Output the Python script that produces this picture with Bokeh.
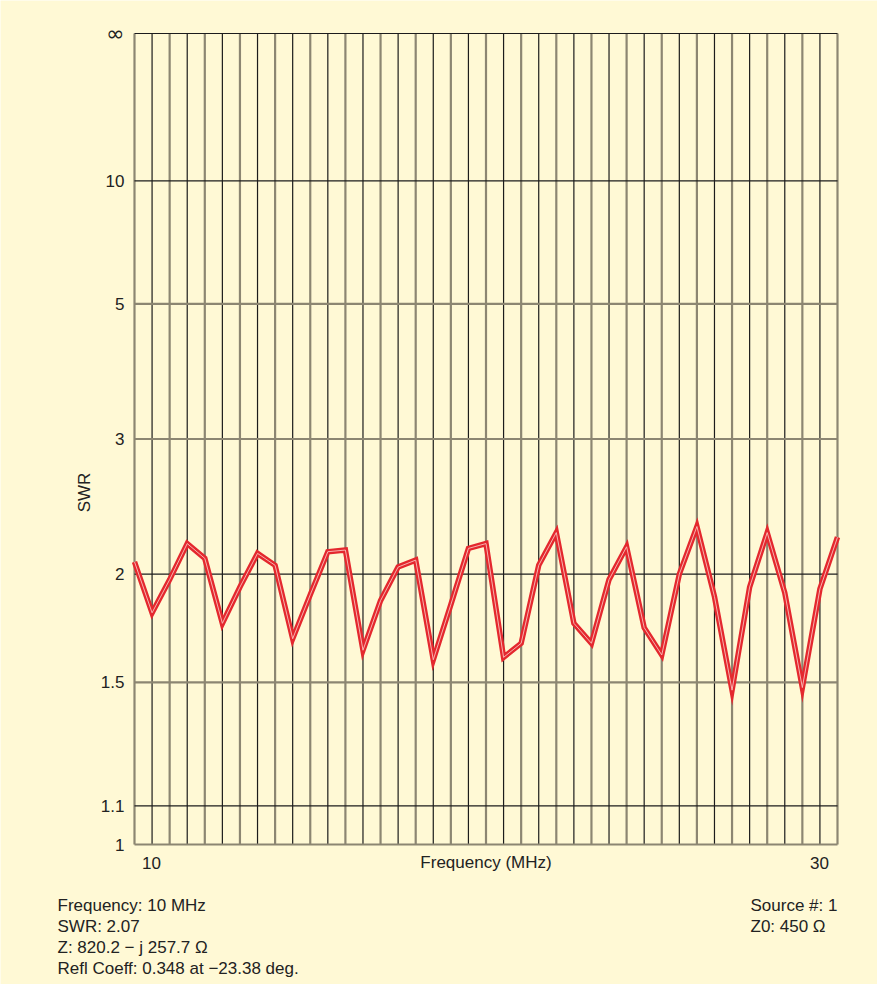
import math
from bokeh.plotting import figure
from bokeh.models import FixedTicker, Label, Range1d, LinearAxis
from bokeh.embed import file_html
from bokeh.resources import INLINE

# ---- data -------------------------------------------------------------
freq_mhz = [10.0, 10.5, 11.0, 11.5, 12.0, 12.5, 13.0, 13.5, 14.0, 14.5,
            15.0, 15.5, 16.0, 16.5, 17.0, 17.5, 18.0, 18.5, 19.0, 19.5,
            20.0, 20.5, 21.0, 21.5, 22.0, 22.5, 23.0, 23.5, 24.0, 24.5,
            25.0, 25.5, 26.0, 26.5, 27.0, 27.5, 28.0, 28.5, 29.0, 29.5,
            30.0]
swr = [2.07, 1.80, 1.97, 2.18, 2.09, 1.75, 1.93, 2.12, 2.05, 1.68,
       1.89, 2.13, 2.14, 1.63, 1.86, 2.04, 2.08, 1.59, 1.84, 2.15,
       2.18, 1.60, 1.66, 2.05, 2.25, 1.75, 1.66, 1.97, 2.16, 1.73,
       1.61, 2.00, 2.29, 1.88, 1.47, 1.93, 2.25, 1.90, 1.48, 1.92,
       2.22]

swr_ticks = [1, 1.1, 1.5, 2, 3, 5, 10]
swr_tick_labels = ["1", "1.1", "1.5", "2", "3", "5", "10"]
infinity_label = "\u221e"
swr_black_lines = [1.1, 2, 10, float("inf")]
swr_gray_lines = [1, 1.5, 3, 5]
freq_start, freq_stop = 10, 30
x_tick_values = [10, 30]
x_tick_labels = ["10", "30"]
x_axis_title = "Frequency (MHz)"

readout_left = ["Frequency: 10 MHz", "SWR: 2.07",
                "Z: 820.2 \u2212 j 257.7 \u03a9",
                "Refl Coeff: 0.348 at \u221223.38 deg."]
readout_right = ["Source #: 1", "Z0: 450 \u03a9"]


def rho(s):
    """Reflection-coefficient magnitude: the chart's vertical scale."""
    return 1.0 if math.isinf(s) else round((s - 1.0) / (s + 1.0), 9)


# ---- styles / layout ----------------------------------------------------
BG = "#FFF9D5"
TXT = "#222222"
BLACK = "#1c1c1c"
GRAY = "#8c8672"
RED = "#E4282E"
FONT = "Liberation Sans"
FS = "17px"

W, H = 877, 984
PX_PER_MHZ = 703 / 20.0
PX_PER_RHO = 811.0
LEFT_PAD, RIGHT_PAD, TOP_PAD, BOTTOM_PAD = 134, 40, 33, 140

p = figure(width=W, height=H, output_backend="svg", toolbar_location=None,
           x_axis_type=None, y_axis_type=None, min_border=0,
           x_range=Range1d(freq_start - LEFT_PAD / PX_PER_MHZ,
                           freq_stop + RIGHT_PAD / PX_PER_MHZ),
           y_range=Range1d(0 - BOTTOM_PAD / PX_PER_RHO,
                           1 + TOP_PAD / PX_PER_RHO))
p.background_fill_color = BG
p.border_fill_color = BG
p.outline_line_color = None
p.grid.visible = False

# chart grid: one vertical line per frequency step (gray / black alternating)
gray_f, black_f = freq_mhz[0::2], freq_mhz[1::2]
p.segment(x0=gray_f, y0=[0] * len(gray_f), x1=gray_f, y1=[1] * len(gray_f),
          line_color=GRAY, line_width=2.2)
p.segment(x0=black_f, y0=[0] * len(black_f), x1=black_f, y1=[1] * len(black_f),
          line_color=BLACK, line_width=1.2)
# horizontal SWR lines
gy = [rho(s) for s in swr_gray_lines]
by = [rho(s) for s in swr_black_lines]
p.segment(x0=[freq_start] * len(gy), y0=gy, x1=[freq_stop] * len(gy), y1=gy,
          line_color=GRAY, line_width=2.2)
p.segment(x0=[freq_start] * len(by), y0=by, x1=[freq_stop] * len(by), y1=by,
          line_color=BLACK, line_width=1.2)

# the SWR trace
rho_vals = [rho(s) for s in swr]
p.line(freq_mhz, rho_vals, line_color=RED, line_width=5.5, line_join="miter")
p.line(freq_mhz, rho_vals, line_color="#F8C2BC", line_width=1, line_alpha=0.9)

# y axis (SWR labels on reflection-coefficient scale), pinned at 10 MHz
y_ticks = [rho(s) for s in swr_ticks]
yax = LinearAxis(fixed_location=freq_start, ticker=FixedTicker(ticks=y_ticks))
yax.major_label_overrides = {t: l for t, l in zip(y_ticks, swr_tick_labels)}
yax.axis_line_color = None
yax.major_tick_line_color = None
yax.minor_tick_line_color = None
yax.major_tick_out = 0
yax.major_tick_in = 0
yax.major_label_standoff = 10
yax.major_label_text_font = FONT
yax.major_label_text_font_size = FS
yax.major_label_text_color = TXT
yax.axis_label = "SWR"
yax.axis_label_text_font = FONT
yax.axis_label_text_font_size = FS
yax.axis_label_text_font_style = "normal"
yax.axis_label_text_color = TXT
yax.axis_label_standoff = 4
p.add_layout(yax, "left")

# infinity label at the top of the SWR scale
p.add_layout(Label(x=freq_start, y=rho(float("inf")), x_offset=-10,
                   text=infinity_label, text_align="right",
                   text_baseline="middle", text_font="DejaVu Sans",
                   text_font_size="22px", text_color=TXT))

# frequency labels: "10" and "30" just inside the chart ends, title centred
for xv, lab, off in zip(x_tick_values, x_tick_labels, [17, -18]):
    p.add_layout(Label(x=xv, y=0, x_offset=off, y_offset=-18, text=lab,
                       text_align="center", text_baseline="middle",
                       text_font=FONT, text_font_size=FS, text_color=TXT))
p.add_layout(Label(x=(freq_start + freq_stop) / 2, y=0, y_offset=-18,
                   text=x_axis_title, text_align="center", text_baseline="middle",
                   text_font=FONT, text_font_size=FS, text_color=TXT))

# readout text block under the chart
for i, t in enumerate(readout_left):
    p.add_layout(Label(x=freq_start, y=0, x_offset=-77, y_offset=-61 - 21 * i,
                       text=t, text_align="left", text_baseline="middle",
                       text_font=FONT, text_font_size=FS, text_color=TXT))
for i, t in enumerate(readout_right):
    p.add_layout(Label(x=freq_start, y=0, x_offset=616, y_offset=-61 - 21 * i,
                       text=t, text_align="left", text_baseline="middle",
                       text_font=FONT, text_font_size=FS, text_color=TXT))

open("out.html", "w").write(file_html(p, INLINE))
